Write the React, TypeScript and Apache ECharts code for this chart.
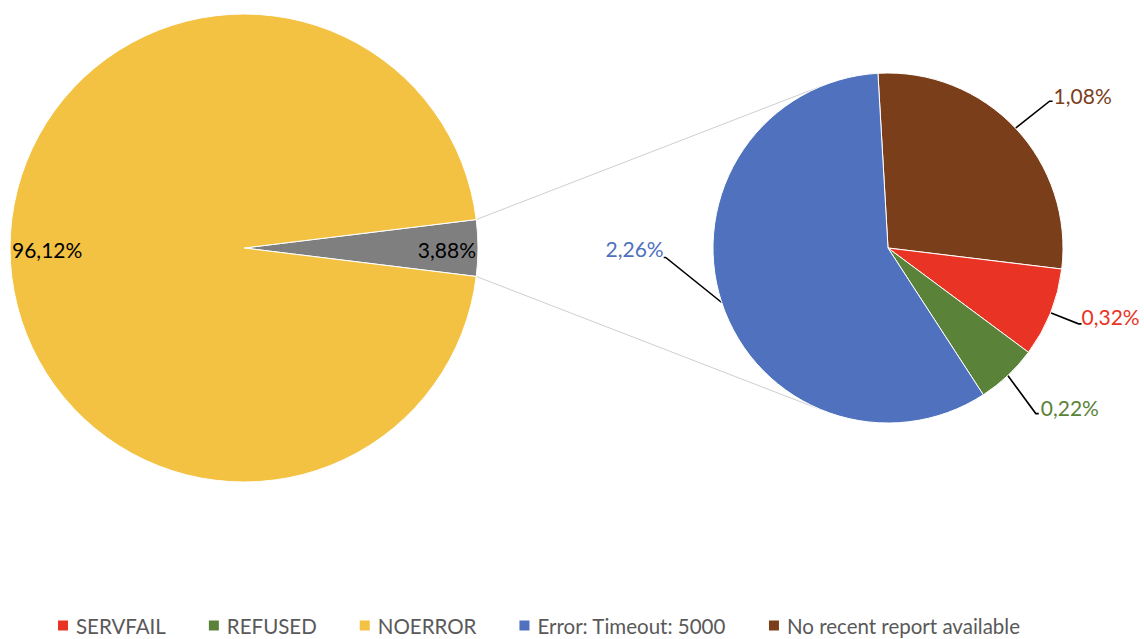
import React, { useEffect, useRef } from 'react';
import * as echarts from 'echarts';

const overviewNames = ['Other', 'NOERROR'];
const overviewValues = [3.88, 96.12];
const detailNames = ['No recent report available', 'SERVFAIL', 'REFUSED', 'Error: Timeout: 5000'];
const detailValues = [1.08, 0.32, 0.22, 2.26];
const legendNames = ['SERVFAIL', 'REFUSED', 'NOERROR', 'Error: Timeout: 5000', 'No recent report available'];

const COLORS: Record<string, string> = {
  Other: '#7F7F7F',
  NOERROR: '#F4C243',
  'No recent report available': '#7B3E1A',
  SERVFAIL: '#E93425',
  REFUSED: '#5A8239',
  'Error: Timeout: 5000': '#4F71BE',
};

// layout
const LCX = 244, LCY = 248, LR = 234;
const RCX = 888, RCY = 248, RR = 175;
const R_START = 93.3;
const FONT = 'Lato, "Open Sans", sans-serif';

// per-label offsets (line end relative to slice edge, text relative to line end)
const LABEL_OFFSETS = [
  { dx: 34, dy: -27, tx: 4, ty: -6, align: 'left' },
  { dx: 28, dy: 11, tx: 3, ty: -7, align: 'left' },
  { dx: 28, dy: 38, tx: 5, ty: -6, align: 'left' },
  { dx: -56, dy: -45, tx: -2, ty: -9, align: 'right' },
];

const fmt = (v: number) => v.toFixed(2).replace('.', ',') + '%';

export default function App() {
  const ref = useRef<HTMLDivElement>(null);
  useEffect(() => {
    if (!ref.current) return;
    const chart = echarts.init(ref.current, null, { renderer: 'svg' });
    const lTotal = overviewValues.reduce((a, b) => a + b, 0);
    const lStart = (overviewValues[0] / lTotal) * 360 / 2;
    const rTotal = detailValues.reduce((a, b) => a + b, 0);

    const midAngles: number[] = [];
    let cum = 0;
    detailValues.forEach((v) => {
      midAngles.push(R_START - ((cum + v / 2) / rTotal) * 360);
      cum += v;
    });

    const rad = (d: number) => (d * Math.PI) / 180;
    // connector lines from gray slice corners to detail pie
    const a1 = rad(lStart);
    const tangentAngle = rad(112);
    const p1 = [LCX + LR * Math.cos(a1), LCY - LR * Math.sin(a1)];
    const p2 = [LCX + LR * Math.cos(a1), LCY + LR * Math.sin(a1)];
    const q1 = [RCX + RR * Math.cos(tangentAngle), RCY - RR * Math.sin(tangentAngle)];
    const q2 = [RCX + RR * Math.cos(tangentAngle), RCY + RR * Math.sin(tangentAngle)];

    chart.setOption({
      animation: false,
      backgroundColor: '#ffffff',
      textStyle: { fontFamily: FONT },
      legend: {
        data: legendNames,
        left: 56,
        top: 615,
        padding: 0,
        icon: 'rect',
        itemWidth: 12,
        itemHeight: 12,
        itemGap: 41,
        textStyle: { fontSize: 20.5, color: '#595959', fontFamily: FONT, padding: [0, 0, 0, 2] },
        selectedMode: false,
      },
      graphic: [
        {
          type: 'line', z: 0,
          shape: { x1: p1[0], y1: p1[1], x2: q1[0], y2: q1[1] },
          style: { stroke: '#CFCFCF', lineWidth: 1 },
        },
        {
          type: 'line', z: 0,
          shape: { x1: p2[0], y1: p2[1], x2: q2[0], y2: q2[1] },
          style: { stroke: '#CFCFCF', lineWidth: 1 },
        },
      ],
      series: [
        {
          type: 'pie',
          center: [LCX, LCY],
          radius: LR,
          startAngle: lStart,
          clockwise: true,
          avoidLabelOverlap: false,
          emphasis: { disabled: true },
          itemStyle: { borderColor: '#ffffff', borderWidth: 1 },
          label: {
            show: true,
            position: 'inside',
            formatter: (p: any) => fmt(p.value),
            fontSize: 21,
            color: '#000000',
            fontFamily: FONT,
          },
          labelLayout: (p: any) =>
            p.dataIndex === 0
              ? { x: LCX + LR - 2, y: LCY + 1, align: 'right', verticalAlign: 'middle' }
              : { x: LCX - LR + 2, y: LCY + 1, align: 'left', verticalAlign: 'middle' },
          data: overviewNames.map((n, i) => ({
            name: n,
            value: overviewValues[i],
            itemStyle: { color: COLORS[n] },
          })),
        },
        {
          type: 'pie',
          center: [RCX, RCY],
          radius: RR,
          startAngle: R_START,
          clockwise: true,
          avoidLabelOverlap: false,
          emphasis: { disabled: true },
          itemStyle: { borderColor: '#ffffff', borderWidth: 1 },
          label: {
            show: true,
            position: 'outside',
            formatter: (p: any) => fmt(p.value),
            fontSize: 21,
            fontFamily: FONT,
          },
          labelLine: {
            show: true,
            length: 20,
            length2: 5,
            lineStyle: { color: '#000000', width: 1.6 },
          },
          labelLayout: (p: any) => {
            const i = p.dataIndex;
            const a = rad(midAngles[i]);
            const ex = RCX + RR * Math.cos(a);
            const ey = RCY - RR * Math.sin(a);
            const o = LABEL_OFFSETS[i];
            const lx = ex + o.dx;
            const ly = ey + o.dy;
            const hx = lx + (o.align === 'left' ? 3 : -2);
            return {
              x: lx + o.tx,
              y: ly + o.ty,
              align: o.align,
              verticalAlign: 'middle',
              labelLinePoints: [[ex, ey], [lx, ly], [hx, ly]],
            };
          },
          data: detailNames.map((n, i) => ({
            name: n,
            value: detailValues[i],
            itemStyle: { color: COLORS[n] },
            label: { color: COLORS[n] },
          })),
        },
      ],
    });
    return () => chart.dispose();
  }, []);
  return (
    <div
      ref={ref}
      style={{ position: 'fixed', left: 0, top: 0, width: 1144, height: 639 }}
    />
  );
}
